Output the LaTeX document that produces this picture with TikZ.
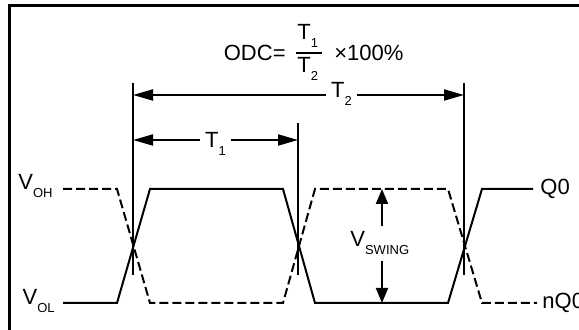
\documentclass[tikz,border=0pt]{standalone}
\usepackage{fontspec}
\setmainfont{Liberation Sans}
\usetikzlibrary{arrows.meta,positioning}
\newcommand{\lowsub}[1]{\raisebox{-4pt}[0pt][0pt]{\fontsize{6.5}{7}\selectfont #1}}

\begin{document}
\begin{tikzpicture}[
        x=0.5pt, y=-0.5pt,
        font=\fontsize{11}{12}\selectfont,
        lbl/.style={inner sep=0pt},
        gaplbl/.style={fill=white, inner sep=2.5pt},
        frame/.style={line width=1.5pt},
        wave/.style={line width=1pt, line join=miter},
        dashwave/.style={wave, dash pattern=on 4.5pt off 2pt},
        marker/.style={line width=1pt},
        dim/.style={line width=1pt, {Triangle[length=10pt,width=5.5pt]}-{Triangle[length=10pt,width=5.5pt]}},
        swing/.style={line width=1pt, -{Triangle[length=7.5pt,width=6pt]}}
    ]
        \clip (0,0) rectangle (579,330);
        \draw[frame] (9.5,6) rectangle (620,360);

        % duty cycle formula
        \node[lbl, anchor=base east] (odc) at (286,61) {ODC=};
        \node[lbl, anchor=base west] (num) at (297,40) {T\lowsub{1}};
        \node[lbl, anchor=base west] (den) at (297,73) {T\lowsub{2}};
        \draw[line width=0.6pt] (296,53) -- (322,53);
        \node[lbl, anchor=base west] (pct) at (334,61) {×100\%};

        % crossing markers
        \coordinate (c1top) at (133,83);
        \coordinate (c1bot) at (133,275);
        \coordinate (c2top) at (298,123);
        \coordinate (c2bot) at (298,275);
        \coordinate (c3top) at (464,83);
        \coordinate (c3bot) at (464,275);
        \draw[marker] (c1top) -- (c1bot);
        \draw[marker] (c2top) -- (c2bot);
        \draw[marker] (c3top) -- (c3bot);

        % periods
        \coordinate (t2l) at (133,95);
        \coordinate (t2r) at (464,95);
        \coordinate (t1l) at (133,140);
        \coordinate (t1r) at (298,140);
        \draw[dim] (t2l) -- node[gaplbl, pos=0.63, yshift=2.75pt] {T\lowsub{2}} (t2r);
        \draw[dim] (t1l) -- node[gaplbl] {T\lowsub{1}} (t1r);

        % output levels
        \node[lbl, anchor=base east] (voh) at (53,190) {V\lowsub{OH}};
        \node[lbl, anchor=base east] (vol) at (55,305) {V\lowsub{OL}};

        % Q0 and nQ0
        \draw[wave] (63,303) -- (117,303) -- (150,189) -- (283,189) -- (315,303)
            -- (448,303) -- (482,189) -- (533,189);
        \draw[dashwave] (63,189) -- (117,189) -- (150,303) -- (283,303) -- (315,189)
            -- (448,189) -- (482,303) -- (537,303);
        \node[lbl, anchor=west] (q0) at (540,189) {Q0};
        \node[lbl, anchor=west] (nq0) at (542,303) {nQ0};

        % swing
        \node[lbl, anchor=base west] (vsw) at (350,247) {V\lowsub{SWING}};
        \coordinate (vup) at (382,226);
        \coordinate (vhi) at (382,189);
        \coordinate (vdn) at (382,261);
        \coordinate (vlo) at (382,303);
        \draw[swing] (vup) -- (vhi);
        \draw[swing] (vdn) -- (vlo);
    \end{tikzpicture}
\end{document}
